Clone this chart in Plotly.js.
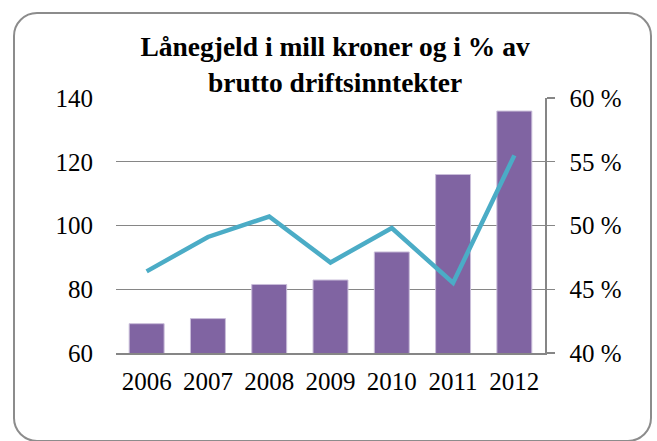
<!DOCTYPE html>
<html>
<head>
<meta charset="utf-8">
<script src="https://cdn.plot.ly/plotly-3.0.1.min.js"></script>
<style>
  body { margin: 0; background: #fff; }
  #wrap { position: relative; width: 657px; height: 441px; }
  #frame {
    position: absolute; left: 13px; top: 12px; width: 635px; height: 426px;
    border: 2px solid #8c8c8c; border-radius: 24px; pointer-events: none;
  }
  #chart { position: absolute; left: 0; top: 0; width: 657px; height: 441px; }
  #chart text { font-family: 'Liberation Serif' !important; }
</style>
</head>
<body>
<div id="wrap">
  <div id="chart"></div>
  <div id="frame"></div>
</div>
<script>
// values
const years = ['2006', '2007', '2008', '2009', '2010', '2011', '2012'];
const debtMill = [69.2, 70.8, 81.5, 82.9, 91.7, 116, 135.9];
const debtPct = [46.4, 49.1, 50.7, 47.1, 49.8, 45.5, 55.5];
const leftTicks = [60, 80, 100, 120, 140];
const rightTicks = [40, 45, 50, 55, 60];
const rightTickText = ['40 %', '45 %', '50 %', '55 %', '60 %'];

const serif = 'Times New Roman';

const bars = {
    x: years,
    y: debtMill,
    type: 'bar',
    marker: {color: '#8064A2', line: {color: '#c9bdd9', width: 1}},
    width: 0.57,
    hoverinfo: 'x+y'
};

const line = {
    x: years,
    y: debtPct,
    yaxis: 'y2',
    type: 'scatter',
    mode: 'lines',
    line: {color: '#4BACC6', width: 4.5},
    hoverinfo: 'x+y'
};

const layout = {
    width: 657,
    height: 441,
    margin: {l: 116, r: 112, t: 98, b: 88},
    paper_bgcolor: 'rgba(0,0,0,0)',
    plot_bgcolor: 'rgba(0,0,0,0)',
    showlegend: false,
    bargap: 0.43,
    font: {family: serif, color: '#000', size: 24},
    title: {
        text: '<b>Lånegjeld i mill kroner og i % av<br>brutto driftsinntekter</b>',
        font: {family: serif, size: 27.5, color: '#000'},
        x: 0.51, xanchor: 'center',
        y: 0.872, yanchor: 'top'
    },
    xaxis: {
        type: 'category',
        tickvals: years,
        showgrid: false,
        showline: true, linecolor: '#868686', linewidth: 1.5,
        ticks: '',
        ticklabelstandoff: 5,
        tickfont: {family: serif, size: 25},
        fixedrange: true
    },
    yaxis: {
        range: [60, 140],
        tickvals: leftTicks,
        showgrid: true, gridcolor: '#868686', gridwidth: 1.3,
        zeroline: false,
        showline: false,
        ticks: '',
        ticklabelstandoff: 22,
        tickfont: {family: serif, size: 25},
        fixedrange: true
    },
    yaxis2: {
        overlaying: 'y',
        side: 'right',
        range: [40, 60],
        tickvals: rightTicks,
        ticktext: rightTickText,
        showgrid: false,
        zeroline: false,
        showline: true, linecolor: '#868686', linewidth: 1.5,
        ticks: 'outside', ticklen: 8, tickcolor: '#868686', tickwidth: 1.3,
        ticklabelstandoff: 10,
        tickfont: {family: serif, size: 25},
        fixedrange: true
    }
};

Plotly.newPlot('chart', [bars, line], layout, {displayModeBar: false, staticPlot: true});
</script>
</body>
</html>
